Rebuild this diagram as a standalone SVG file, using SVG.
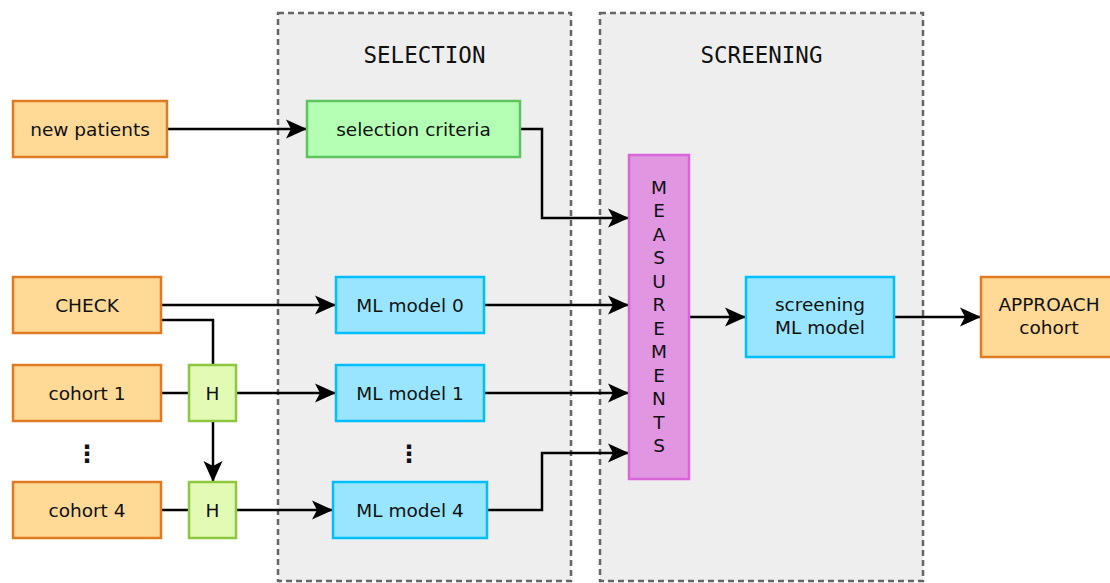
<svg xmlns="http://www.w3.org/2000/svg" width="1110" height="583" viewBox="0 0 1110 583">
<style>
text{font-family:"DejaVu Sans","Liberation Sans",sans-serif;font-size:18.5px;fill:#111;text-anchor:middle}
.title{font-family:"DejaVu Sans Mono","Liberation Mono",monospace;font-size:22.5px}
.panel{fill:#eeeeee;stroke:#666;stroke-width:2.5;stroke-dasharray:6 4}
.or{fill:#ffd996;stroke:#e07b22;stroke-width:2.5}
.gr{fill:#b3ffb3;stroke:#5ec55e;stroke-width:2.5}
.h{fill:#e3fab5;stroke:#8dc63f;stroke-width:2.5}
.bl{fill:#99e5ff;stroke:#00bfff;stroke-width:2.5}
.pk{fill:#e096e0;stroke:#d966d9;stroke-width:2.5}
.c{fill:none;stroke:#000;stroke-width:2.5}
.a{marker-end:url(#arr)}
.dots{font-weight:bold;font-size:24px}
</style>
<defs>
<marker id="arr" markerUnits="userSpaceOnUse" markerWidth="22" markerHeight="22" refX="21" refY="10" orient="auto" viewBox="0 0 22 20">
<path d="M0,0.5 L21,10 L0,19.5 L5,10 z" fill="#000"/>
</marker>
</defs>
<g id="panel-selection">
<rect class="panel" x="278" y="13" width="293" height="568"/>
<text class="title" x="424.5" y="63">SELECTION</text>
</g>
<g id="panel-screening">
<rect class="panel" x="600" y="13" width="323" height="568"/>
<text class="title" x="761.5" y="63">SCREENING</text>
</g>
<g id="connectors">
<path class="c a" d="M167,129 H307"/>
<path class="c a" d="M520,129 H542 V218 H629"/>
<path class="c a" d="M161,305 H336"/>
<path class="c" d="M161,320 H213 V365"/>
<path class="c" d="M161,393 H189"/>
<path class="c a" d="M236,393 H336"/>
<path class="c a" d="M213,421 V482"/>
<path class="c" d="M161,510 H189"/>
<path class="c a" d="M236,510 H333"/>
<path class="c a" d="M484,305 H629"/>
<path class="c a" d="M484,393 H629"/>
<path class="c a" d="M487,510 H542 V453 H629"/>
<path class="c a" d="M689,317 H746"/>
<path class="c a" d="M894,317 H981"/>
</g>
<g id="new-patients"><rect class="or" x="13" y="101" width="154" height="56"/><text x="90" y="135.5">new patients</text></g>
<g id="selection-criteria"><rect class="gr" x="307" y="101" width="213" height="56"/><text x="413.5" y="135.5">selection criteria</text></g>
<g id="check"><rect class="or" x="13" y="277" width="148" height="56"/><text x="87" y="311.5">CHECK</text></g>
<g id="cohort-1"><rect class="or" x="13" y="365" width="148" height="56"/><text x="87" y="399.5">cohort 1</text></g>
<g id="dots-left"><text class="dots" x="87" y="462">⋮</text></g>
<g id="cohort-4"><rect class="or" x="13" y="482" width="148" height="56"/><text x="87" y="516.5">cohort 4</text></g>
<g id="h-1"><rect class="h" x="189" y="365" width="47" height="56"/><text x="212.5" y="399.5">H</text></g>
<g id="h-2"><rect class="h" x="189" y="482" width="47" height="56"/><text x="212.5" y="516.5">H</text></g>
<g id="ml-model-0"><rect class="bl" x="336" y="277" width="148" height="56"/><text x="410" y="311.5">ML model 0</text></g>
<g id="ml-model-1"><rect class="bl" x="336" y="365" width="148" height="56"/><text x="410" y="399.5">ML model 1</text></g>
<g id="dots-mid"><text class="dots" x="409" y="462">⋮</text></g>
<g id="ml-model-4"><rect class="bl" x="333" y="482" width="154" height="56"/><text x="410" y="516.5">ML model 4</text></g>
<g id="measurements"><rect class="pk" x="629" y="155" width="60" height="324"/>
<text x="659" y="194" font-size="17">M<tspan x="659" dy="23.45">E</tspan><tspan x="659" dy="23.45">A</tspan><tspan x="659" dy="23.45">S</tspan><tspan x="659" dy="23.45">U</tspan><tspan x="659" dy="23.45">R</tspan><tspan x="659" dy="23.45">E</tspan><tspan x="659" dy="23.45">M</tspan><tspan x="659" dy="23.45">E</tspan><tspan x="659" dy="23.45">N</tspan><tspan x="659" dy="23.45">T</tspan><tspan x="659" dy="23.45">S</tspan></text>
</g>
<g id="screening-ml-model"><rect class="bl" x="746" y="277" width="148" height="80"/><text x="820" y="311">screening</text><text x="820" y="334">ML model</text></g>
<g id="approach-cohort"><rect class="or" x="981" y="277" width="136" height="80"/><text x="1049" y="311">APPROACH</text><text x="1049" y="334">cohort</text></g>
</svg>
